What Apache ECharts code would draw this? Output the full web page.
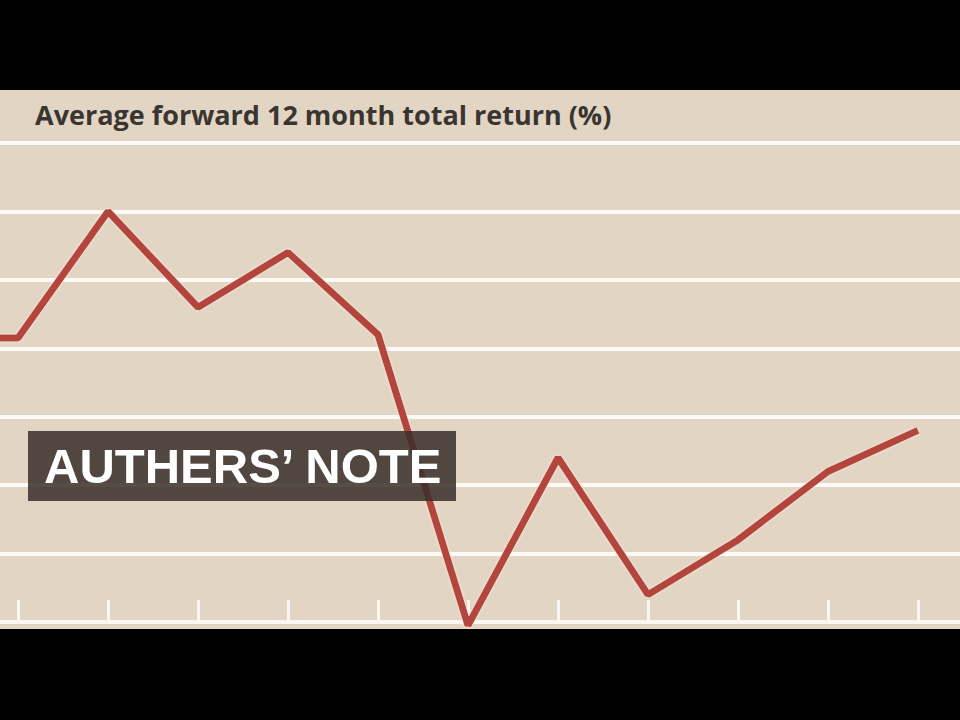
<!DOCTYPE html>
<html>
<head>
<meta charset="utf-8">
<style>
html,body{margin:0;padding:0;background:#000;}
#chart{width:960px;height:720px;}
</style>
<script src="https://cdn.jsdelivr.net/npm/echarts@6/dist/echarts.min.js"></script>
</head>
<body>
<div id="chart"></div>
<script>
// Data (x = period index, y = average forward 12 month total return, %)
const periods = [-1, 0, 1, 2, 3, 4, 5, 6, 7, 8, 9, 10];
const returns = [8.3, 8.3, 12.0, 9.2, 10.8, 8.4, -0.1, 4.8, 0.8, 2.4, 4.4, 5.6];
const tickPeriods = [0, 1, 2, 3, 4, 5, 6, 7, 8, 9, 10];
const titleText = 'Average forward 12 month total return (%)';
const noteText = 'AUTHERS\u2019 NOTE';

const chart = echarts.init(document.getElementById('chart'), null, {renderer: 'svg'});
const seriesData = periods.map((p, i) => [p, returns[i]]);

chart.setOption({
  backgroundColor: '#000000',
  animation: false,
  title: {
    text: titleText,
    left: 30,
    top: 96,
    textStyle: {
      fontFamily: 'Open Sans',
      fontWeight: 'bold',
      fontSize: 27,
      color: '#3a3530'
    }
  },
  grid: {left: 0, right: 0, top: 143, bottom: 98},
  xAxis: {
    type: 'value',
    min: -0.2,
    max: 10.4667,
    axisLabel: {show: false},
    splitLine: {show: false},
    axisLine: {show: true, lineStyle: {color: '#fbf6ef', width: 4}},
    axisTick: {show: true, inside: true, length: 22, customValues: tickPeriods, lineStyle: {color: '#fbf6ef', width: 3}}
  },
  yAxis: {
    type: 'value',
    min: 0,
    max: 14,
    interval: 2,
    axisLabel: {show: false},
    axisLine: {show: false},
    axisTick: {show: false},
    splitLine: {show: true, lineStyle: {color: '#fdfaf5', width: 4}}
  },
  graphic: [
    {
      type: 'rect',
      z: -100,
      silent: true,
      shape: {x: 0, y: 90, width: 960, height: 539},
      style: {fill: '#e2d5c3'}
    },
    {
      type: 'group',
      z: 100,
      children: [
        {
          type: 'rect',
          z: 100,
          shape: {x: 28, y: 431, width: 428, height: 70},
          style: {fill: 'rgba(58,48,42,0.86)'}
        },
        {
          type: 'text',
          z: 101,
          x: 44,
          y: 466,
          style: {
            text: noteText,
            fill: '#ffffff',
            font: 'bold 49px "Liberation Sans", Arial, sans-serif',
            textVerticalAlign: 'middle',
            verticalAlign: 'middle'
          }
        }
      ]
    }
  ],
  series: [{
    type: 'line',
    data: seriesData,
    clip: false,
    symbol: 'none',
    z: 5,
    lineStyle: {
      color: '#b4453d',
      width: 7,
      shadowColor: 'rgba(255,236,225,0.95)',
      shadowBlur: 3
    }
  }]
});
</script>
</body>
</html>
